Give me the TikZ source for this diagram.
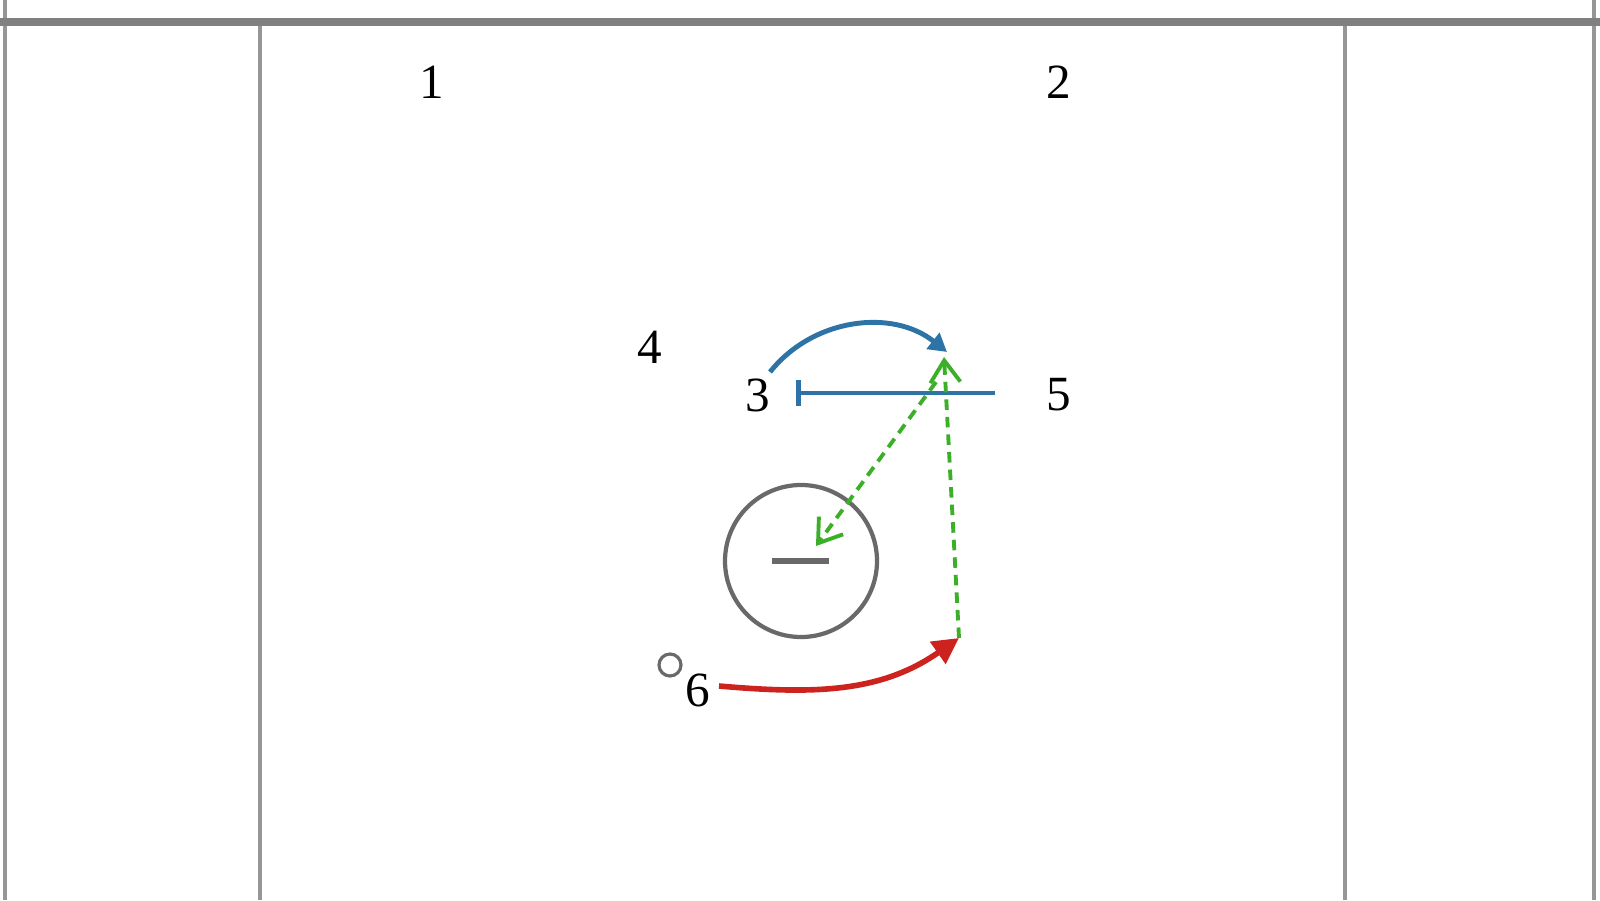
\documentclass[tikz,border=0pt]{standalone}
\usepackage{fontspec}
\setmainfont{Liberation Serif}
\usetikzlibrary{arrows.meta}
\definecolor{rule}{RGB}{150,150,150}
\definecolor{pathblue}{RGB}{45,115,165}
\definecolor{pathred}{RGB}{205,35,30}
\definecolor{pathgreen}{RGB}{60,175,40}
\definecolor{ringgray}{RGB}{105,105,105}
\tikzset{
  num/.style={font=\fontsize{14}{16}\selectfont, inner sep=1pt},
  grid/.style={draw=rule, line width=1.4pt},
  gdash/.style={pathgreen, densely dashed, line width=1.1pt, -{Straight Barb[length=2.2mm,width=3mm]}},
}
\begin{document}
\begin{tikzpicture}
            \useasboundingbox (0, 0) rectangle (16, 9);

            %%frame
            \draw[grid](0.05, 0) to (0.05, 9);
            \draw[grid](15.94, 0) to (15.94, 9);
            \draw[grid](2.60, 0) to (2.60, 8.78);
            \draw[grid](13.45, 0) to (13.45, 8.78);
            \draw[draw=rule!85!black, line width=2.2pt](0, 8.78) to (16, 8.78);

            %%labels
            \node[num] (n1) at(4.32, 8.18){1};
            \node[num] (n2) at(10.59, 8.18){2};
            \node[num] (n4) at(6.50, 5.53){4};
            \node[num] (n3) at(7.58, 5.05){3};
            \node[num] (n5) at(10.59, 5.05){5};
            \node[num] (n6) at(6.98, 2.10){6};

            %%marks
            \node[circle, draw=ringgray, line width=1.2pt, minimum size=15.2mm, inner sep=0pt] (ring) at(8.01, 3.39){};
            \draw[ringgray, line width=1.5pt](7.72, 3.39) to (8.29, 3.39);
            \node[circle, draw=ringgray, line width=0.9pt, minimum size=2.2mm, inner sep=0pt] (dot) at(6.70, 2.35){};

            %%points
            \coordinate (barL) at(7.96, 5.07);
            \coordinate (barR) at(9.95, 5.07);
            \coordinate (arcA) at(7.70, 5.28);
            \coordinate (arcB) at(9.47, 5.48);
            \coordinate (gtop) at(9.44, 5.43);
            \coordinate (gsrc) at(9.36, 5.18);
            \coordinate (gin) at(8.16, 3.54);
            \coordinate (hit) at(9.59, 2.62);
            \coordinate (redA) at(7.19, 2.14);

            %%paths
            \draw[pathblue, line width=1.4pt, {Bar[width=2.6mm]}-](barL) to (barR);
            \draw[pathblue, line width=1.4pt, -{Triangle[length=1.8mm,width=2mm]}](arcA) to[bend left=45] (arcB);
            \draw[gdash](hit) to (gtop);
            \draw[gdash](gsrc) to (gin);
            \draw[pathred, line width=1.6pt, -{Triangle[length=2.6mm,width=2.6mm]}](redA) to[out=-5, in=215] (hit);
\end{tikzpicture}
\end{document}
